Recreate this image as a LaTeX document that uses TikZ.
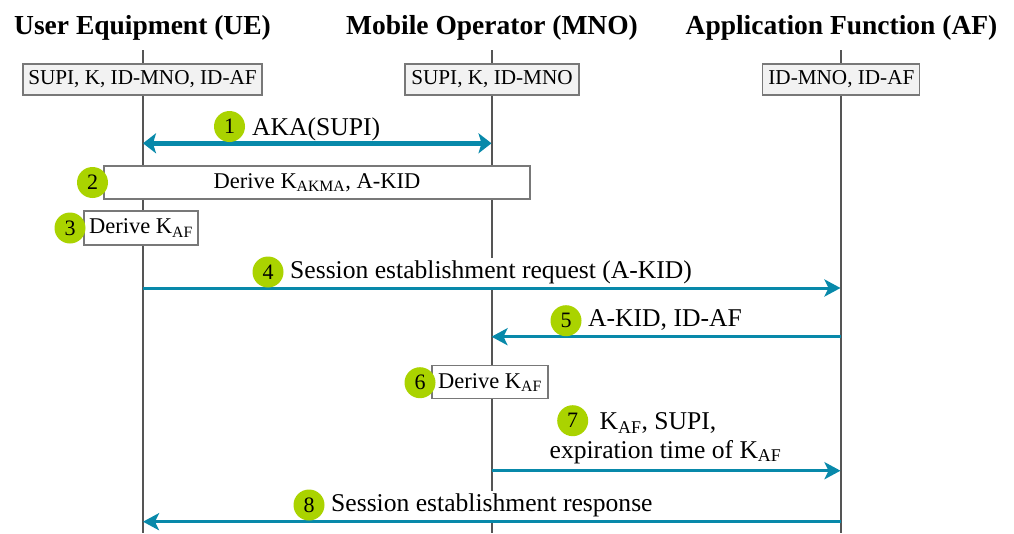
\documentclass[tikz,border=0pt]{standalone}
\usepackage{fontspec}
\setmainfont{Liberation Serif}
\usetikzlibrary{arrows.meta}
\definecolor{msgcol}{RGB}{8,137,170}
\definecolor{stepgreen}{RGB}{170,211,0}
\definecolor{lifegray}{RGB}{85,85,85}
\definecolor{boxgray}{RGB}{242,242,242}
\definecolor{bordergray}{RGB}{120,120,120}
\tikzset{
  hdr/.style={font=\fontsize{27.5}{30}\selectfont\bfseries, inner sep=0pt, anchor=base},
  life/.style={draw=lifegray, line width=2pt},
  infobox/.style={draw=bordergray, fill=boxgray, line width=1.1pt,
    font=\fontsize{21.2}{24}\selectfont, minimum height=31pt, inner sep=0pt},
  actbox/.style={draw=bordergray, fill=white, line width=1.1pt,
    font=\fontsize{22.5}{25}\selectfont, minimum height=33pt, inner sep=0pt},
  stepnum/.style={circle, fill=stepgreen, minimum size=31pt, inner sep=0pt,
    font=\fontsize{22}{24}\selectfont},
  msglabel/.style={font=\fontsize{25.6}{29}\selectfont, inner sep=3pt, fill=white, anchor=base west},
  msglabelc/.style={font=\fontsize{25.6}{29}\selectfont, inner sep=3pt, anchor=base},
  msg/.style={draw=msgcol, line width=3pt, -{Stealth[length=16pt,width=17pt,inset=4pt]}},
  bigmsg/.style={draw=msgcol, line width=5.5pt,
    {Stealth[length=13pt,width=20pt,inset=3pt]}-{Stealth[length=13pt,width=20pt,inset=3pt]}},
}
\begin{document}
\begin{tikzpicture}[x=1pt,y=-1pt]
\useasboundingbox (0,0) rectangle (1014,533);

% headers
\node[hdr] (ue)  at (142.5,34) {User Equipment (UE)};
\node[hdr] (mno) at (492,34) {Mobile Operator (MNO)};
\node[hdr] (af)  at (841.5,34) {Application Function (AF)};

% lifelines
\coordinate (ueTop) at (143,50);   \coordinate (ueBot) at (143,533);
\coordinate (mnoTop) at (491.5,50); \coordinate (mnoBot) at (491.5,533);
\coordinate (afTop) at (840.5,50);  \coordinate (afBot) at (840.5,533);
\draw[life] (ueTop) -- (ueBot);
\draw[life] (mnoTop) -- (mnoBot);
\draw[life] (afTop) -- (afBot);

% initial knowledge
\node[infobox, minimum width=239pt] (kue)  at (142.5,79.5) {SUPI, K, ID-MNO, ID-AF};
\node[infobox, minimum width=174pt] (kmno) at (492,79.5) {SUPI, K, ID-MNO};
\node[infobox, minimum width=157pt] (kaf)  at (841.4,79.5) {ID-MNO, ID-AF};

% step 1
\coordinate (ue1) at (143,143.3); \coordinate (mno1) at (491.5,143.3);
\draw[bigmsg] (ue1) -- (mno1);
\node[msglabel, fill=none] (l1) at (249,135) {AKA(SUPI)};
\node[stepnum] (n1) at (229.5,126.5) {1};

% step 2
\node[actbox, minimum width=426pt] (b2) at (317,182.5) {Derive K\textsubscript{AKMA}, A-KID};
\node[stepnum] (n2) at (92.5,182.5) {2};

% step 3
\node[actbox, minimum width=114pt, minimum height=34pt] (b3) at (141,228) {Derive K\textsubscript{AF}};
\node[stepnum] (n3) at (70,228) {3};

% step 4
\node[msglabel] (l4) at (287,278.3) {Session establishment request (A-KID)};
\coordinate (ue4) at (143,288); \coordinate (af4) at (840.5,288);
\draw[msg] (ue4) -- (af4);
\node[stepnum] (n4) at (268,272) {4};

% step 5
\node[msglabel] (l5) at (585,326.7) {A-KID, ID-AF};
\coordinate (af5) at (840.5,336.7); \coordinate (mno5) at (491.5,336.7);
\draw[msg] (af5) -- (mno5);
\node[stepnum] (n5) at (566,320.7) {5};

% step 6
\node[actbox, minimum width=116pt] (b6) at (490,382.3) {Derive K\textsubscript{AF}};
\node[stepnum] (n6) at (420,382.7) {6};

% step 7
\node[msglabelc] (l7a) at (658,429.3) {K\textsubscript{AF}, SUPI,};
\node[msglabelc] (l7b) at (665.5,458) {expiration time of K\textsubscript{AF}};
\coordinate (mno7) at (491.5,470.7); \coordinate (af7) at (840.5,470.7);
\draw[msg] (mno7) -- (af7);
\node[stepnum] (n7) at (572.7,420.7) {7};

% step 8
\node[msglabel] (l8) at (328,511.7) {Session establishment response};
\coordinate (af8) at (840.5,521.7); \coordinate (ue8) at (143,521.7);
\draw[msg] (af8) -- (ue8);
\node[stepnum] (n8) at (309,505) {8};
\end{tikzpicture}
\end{document}
